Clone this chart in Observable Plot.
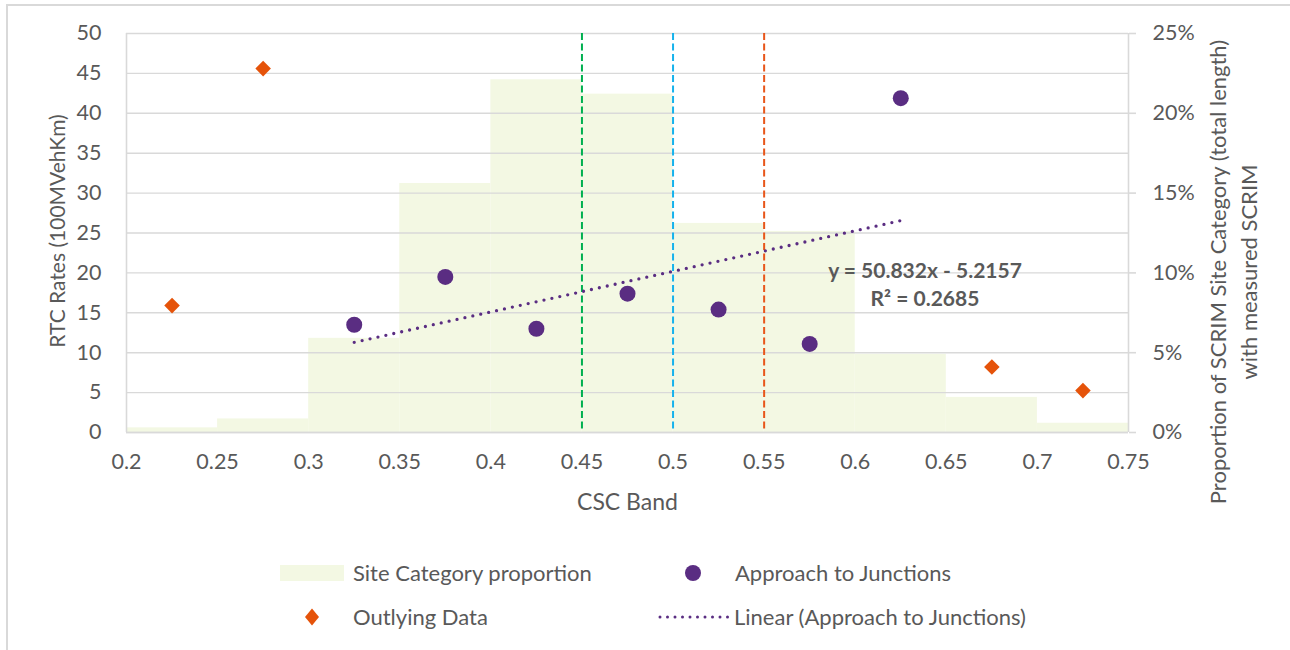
<!DOCTYPE html>
<html>
<head>
<meta charset="utf-8">
<script src="https://cdn.jsdelivr.net/npm/d3@7"></script>
<script src="https://cdn.jsdelivr.net/npm/@observablehq/plot@0.6"></script>
<style>
  html, body { margin: 0; padding: 0; background: #fff; width: 1290px; height: 650px; overflow: hidden; font-family: Lato, "Open Sans", sans-serif; }
  #frame { position: absolute; left: 6px; top: 4px; width: 1400px; height: 700px; border-top: 2px solid #d9d9d9; border-left: 2px solid #d9d9d9; box-sizing: border-box; }
  #chart { position: absolute; left: 0; top: 0; }
  #legend { position: absolute; left: 0; top: 540px; width: 1290px; height: 110px; }
  .lt { position: absolute; font-size: 22px; line-height: 24px; color: #595959; white-space: nowrap; }
</style>
</head>
<body>
<div id="frame"></div>
<div id="chart"></div>
<div id="legend"></div>
<script>
// ---- data ----
const bandStart = [0.20, 0.25, 0.30, 0.35, 0.40, 0.45, 0.50, 0.55, 0.60, 0.65, 0.70];
const bandEnd   = [0.25, 0.30, 0.35, 0.40, 0.45, 0.50, 0.55, 0.60, 0.65, 0.70, 0.75];
const siteProportionPct = [0.29, 0.85, 5.9, 15.6, 22.1, 21.2, 13.1, 12.6, 4.9, 2.2, 0.58];

const approachX = [0.325, 0.375, 0.425, 0.475, 0.525, 0.575, 0.625];
const approachY = [13.5, 19.5, 13.0, 17.4, 15.4, 11.1, 41.9];

const outlyingX = [0.225, 0.275, 0.675, 0.725];
const outlyingY = [15.9, 45.6, 8.2, 5.25];

const trendX = [0.325, 0.625];
const trendY = [11.30, 26.55];

const refLineX = [0.45, 0.50, 0.55];
const refLineColor = ["#00B050", "#16B2EC", "#E8561A"];

const xTicks = [0.2, 0.25, 0.3, 0.35, 0.4, 0.45, 0.5, 0.55, 0.6, 0.65, 0.7, 0.75];
const xTickLabels = ["0.2", "0.25", "0.3", "0.35", "0.4", "0.45", "0.5", "0.55", "0.6", "0.65", "0.7", "0.75"];
const leftTicks = [0, 5, 10, 15, 20, 25, 30, 35, 40, 45, 50];
const rightTicksPct = [0, 5, 10, 15, 20, 25];
const rightTickLabels = ["0%", "5%", "10%", "15%", "20%", "25%"];

const eqLines = ["y = 50.832x - 5.2157", "R\u00B2 = 0.2685"];
const eqX = [0.6383, 0.6383];
const eqY = [20.25, 16.75];

const leftTitle = "RTC Rates (100MVehKm)";
const rightTitle = "Proportion of SCRIM Site Category (total length)\nwith measured SCRIM";
const xTitle = "CSC Band";

// ---- styles ----
const BAR = "#F3F8E3";
const PURPLE = "#5A2D82";
const ORANGE = "#E5530A";
const GRID = "#D9D9D9";
const TEXT = "#595959";

// right axis (0–25 %) maps onto left axis (0–50)
const pctToLeft = p => p * 2;

const bins = bandStart.map((s, i) => ({s, e: bandEnd[i], v: pctToLeft(siteProportionPct[i])}));
const approach = approachX.map((x, i) => ({x, y: approachY[i]}));
const outlying = outlyingX.map((x, i) => ({x, y: outlyingY[i]}));
const trend = trendX.map((x, i) => ({x, y: trendY[i]}));
const refs = refLineX.map((x, i) => ({x, c: refLineColor[i]}));
const eq = eqLines.map((t, i) => ({t, x: eqX[i], y: eqY[i]}));
const rightTicks = rightTicksPct.map(pctToLeft);

const chart = Plot.plot({
  width: 1290,
  height: 540,
  marginTop: 33,
  marginBottom: 108,
  marginLeft: 126,
  marginRight: 162,
  style: {fontFamily: "Lato, 'Open Sans', sans-serif", fontSize: "21px", color: TEXT, background: "transparent", overflow: "visible"},
  x: {domain: [0.2, 0.75]},
  y: {domain: [0, 50]},
  marks: [
    Plot.rect(bins, {x1: "s", x2: "e", y1: 0, y2: "v", fill: BAR}),
    Plot.gridY(leftTicks, {stroke: GRID, strokeOpacity: 1, strokeWidth: 1.4}),
    Plot.ruleX([0.2], {stroke: GRID, strokeWidth: 1.6}),
    Plot.ruleX([0.75], {stroke: GRID, strokeWidth: 1.6}),
    Plot.ruleY([0], {stroke: GRID, strokeWidth: 1.6}),
    Plot.axisY({anchor: "left", ticks: leftTicks, tickSize: 0, tickPadding: 25, label: null, fontSize: 21.5}),
    Plot.axisY({anchor: "right", ticks: rightTicks, tickSize: 7, tickPadding: 17, stroke: GRID, strokeWidth: 1.6,
      tickFormat: d => rightTickLabels[rightTicks.indexOf(d)], label: null, fontSize: 21.5}),
    Plot.axisX({ticks: xTicks, tickSize: 0, tickPadding: 21, tickFormat: d => xTickLabels[xTicks.indexOf(d)], label: null, fontSize: 21.5}),
    Plot.ruleX(refs, {x: "x", stroke: "c", strokeWidth: 2, strokeDasharray: "7,3.5"}),
    Plot.line(trend, {x: "x", y: "y", stroke: PURPLE, strokeWidth: 3.3, strokeDasharray: "0,8.1", strokeLinecap: "round"}),
    Plot.dot(approach, {x: "x", y: "y", r: 8, fill: PURPLE}),
    Plot.dot(outlying, {x: "x", y: "y", r: 7, symbol: "diamond2", fill: ORANGE}),
    Plot.text(eq, {x: "x", y: "y", text: "t", fill: TEXT, fontWeight: "bold", fontSize: 21, textAnchor: "middle", lineAnchor: "middle"}),
    Plot.text([leftTitle], {frameAnchor: "left", text: d => d, rotate: -90, dx: -68, dy: -2, textAnchor: "middle", lineAnchor: "middle", fill: TEXT, fontSize: 21}),
    Plot.text([rightTitle], {frameAnchor: "right", text: d => d, rotate: -90, dx: 103, dy: 39, textAnchor: "middle", lineAnchor: "middle", lineHeight: 1.4, fill: TEXT, fontSize: 22}),
    Plot.text([xTitle], {frameAnchor: "bottom", text: d => d, dy: 70, textAnchor: "middle", lineAnchor: "middle", fill: TEXT, fontSize: 23})
  ]
});
document.getElementById("chart").appendChild(chart);

// ---- legend ----
const legendItems = [
  {label: "Site Category proportion", kind: "rect", sx: 280, tx: 353, cy: 33},
  {label: "Approach to Junctions", kind: "circle", sx: 693, tx: 735, cy: 33},
  {label: "Outlying Data", kind: "diamond", sx: 312, tx: 353, cy: 77},
  {label: "Linear (Approach to Junctions)", kind: "dotline", sx: 658, tx: 734, cy: 77}
];
const legend = document.getElementById("legend");
const ns = "http://www.w3.org/2000/svg";
const lsvg = document.createElementNS(ns, "svg");
lsvg.setAttribute("width", 1290);
lsvg.setAttribute("height", 110);
lsvg.style.position = "absolute";
lsvg.style.left = "0px";
lsvg.style.top = "0px";
legend.appendChild(lsvg);
for (const it of legendItems) {
  let el;
  if (it.kind === "rect") {
    el = document.createElementNS(ns, "rect");
    el.setAttribute("x", it.sx); el.setAttribute("y", it.cy - 8);
    el.setAttribute("width", 64); el.setAttribute("height", 16);
    el.setAttribute("fill", BAR);
  } else if (it.kind === "circle") {
    el = document.createElementNS(ns, "circle");
    el.setAttribute("cx", it.sx); el.setAttribute("cy", it.cy); el.setAttribute("r", 8);
    el.setAttribute("fill", PURPLE);
  } else if (it.kind === "diamond") {
    el = document.createElementNS(ns, "path");
    const x = it.sx, y = it.cy;
    el.setAttribute("d", `M${x},${y - 8.5}L${x + 7},${y}L${x},${y + 8.5}L${x - 7},${y}Z`);
    el.setAttribute("fill", ORANGE);
  } else {
    el = document.createElementNS(ns, "line");
    el.setAttribute("x1", it.sx + 2); el.setAttribute("x2", it.sx + 70);
    el.setAttribute("y1", it.cy); el.setAttribute("y2", it.cy);
    el.setAttribute("stroke", PURPLE); el.setAttribute("stroke-width", 3);
    el.setAttribute("stroke-dasharray", "0,7.5"); el.setAttribute("stroke-linecap", "round");
  }
  lsvg.appendChild(el);
  const t = document.createElement("div");
  t.className = "lt";
  t.textContent = it.label;
  t.style.left = it.tx + "px";
  t.style.top = (it.cy - 12) + "px";
  legend.appendChild(t);
}
</script>
</body>
</html>
